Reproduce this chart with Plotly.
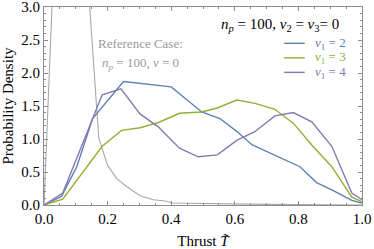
import plotly.graph_objects as go

# ---- data ----
ref_T = [0.0, 0.06, 0.121, 0.172, 0.20, 0.229, 0.26, 0.302, 0.344, 0.38, 0.405, 0.5, 0.6, 0.7, 0.8, 0.9, 1.0]
ref_p = [0.0, 7.2, 4.6, 1.02, 0.60, 0.40, 0.28, 0.14, 0.08, 0.06, 0.03, 0.02, 0.015, 0.01, 0.008, 0.005, 0.0]

nu2_T = [0.0, 0.055, 0.103, 0.153, 0.25, 0.302, 0.354, 0.40, 0.496, 0.553, 0.605, 0.655, 0.805, 0.857, 0.905, 0.968, 1.0]
nu2_p = [0.0, 0.13, 0.58, 1.31, 1.87, 1.84, 1.81, 1.79, 1.41, 1.31, 1.12, 0.91, 0.58, 0.34, 0.23, 0.07, 0.03]

nu3_T = [0.0, 0.059, 0.183, 0.244, 0.302, 0.36, 0.426, 0.496, 0.545, 0.606, 0.664, 0.726, 0.784, 0.842, 0.905, 0.968, 1.0]
nu3_p = [0.0, 0.09, 0.89, 1.13, 1.17, 1.25, 1.39, 1.41, 1.47, 1.59, 1.54, 1.45, 1.24, 0.91, 0.58, 0.12, 0.05]

nu4_T = [0.0, 0.059, 0.183, 0.242, 0.302, 0.36, 0.426, 0.485, 0.545, 0.606, 0.663, 0.726, 0.784, 0.842, 0.905, 0.968, 1.0]
nu4_p = [0.0, 0.18, 1.67, 1.76, 1.38, 1.18, 0.86, 0.73, 0.76, 0.98, 1.11, 1.35, 1.40, 1.26, 0.89, 0.18, 0.08]

series_labels = ["2", "3", "4"]
colors = ["#5E81B5", "#8FB032", "#8778B3"]
grey = "#A8A8A8"
serif = "Liberation Serif, Times New Roman, serif"

fig = go.Figure()
fig.add_trace(go.Scatter(x=ref_T, y=ref_p, mode="lines",
                         line=dict(color=grey, width=1.1), showlegend=False))
for T, p, c in zip([nu2_T, nu3_T, nu4_T], [nu2_p, nu3_p, nu4_p], colors):
    fig.add_trace(go.Scatter(x=T, y=p, mode="lines",
                             line=dict(color=c, width=1.4), showlegend=False))

axis_common = dict(
    showgrid=False, zeroline=False, showline=True, linecolor="#8c8c8c",
    linewidth=1, mirror="ticks", ticks="inside", ticklen=4, tickcolor="#8c8c8c",
    tickfont=dict(family=serif, size=15, color="black"), automargin=False,
    ticklabeloverflow="allow",
)
fig.update_xaxes(range=[0, 1], dtick=0.2, tickformat=".1f",
                 minor=dict(dtick=0.05, ticks="inside", ticklen=2, tickcolor="#8c8c8c"),
                 title=dict(text="Thrust <i>T\u0303</i>", font=dict(family=serif, size=15, color="black")),
                 **axis_common)
fig.update_yaxes(range=[0, 3], dtick=0.5, tickformat=".1f",
                 minor=dict(dtick=0.1, ticks="inside", ticklen=2, tickcolor="#8c8c8c"),
                 title=dict(text="Probability Density", font=dict(family=serif, size=15, color="black")),
                 **axis_common)

# reference-case label
fig.add_annotation(x=0.305, y=2.45, xref="x", yref="y", showarrow=False,
                   text="Reference Case:", font=dict(family=serif, size=13, color="#9a9a9a"))
fig.add_annotation(x=0.305, y=2.15, xref="x", yref="y", showarrow=False,
                   text="<i>n<sub>p</sub></i> = 100, <i>ν</i> = 0", font=dict(family=serif, size=13, color="#9a9a9a"))

# legend header and entries
fig.add_annotation(x=0.935, y=2.72, xref="x", yref="y", xanchor="right", showarrow=False,
                   text="<i>n<sub>p</sub></i> = 100, <i>ν</i><sub>2</sub> = <i>ν</i><sub>3</sub>= 0",
                   font=dict(family=serif, size=15, color="black"))
for i, (lab, c) in enumerate(zip(series_labels, colors)):
    yy = 2.45 - i * 0.22
    fig.add_shape(type="line", xref="x", yref="y", x0=0.755, x1=0.82, y0=yy, y1=yy,
                  line=dict(color=c, width=1.4))
    fig.add_annotation(x=0.955, y=yy, xref="x", yref="y", xanchor="right", showarrow=False,
                       text=f"<i>ν</i><sub>1</sub> = {lab}", font=dict(family=serif, size=13, color=c))

fig.update_layout(width=374, height=249, margin=dict(l=44, r=12, t=7, b=44),
                  paper_bgcolor="white", plot_bgcolor="white", showlegend=False)
fig.write_html("out.html", config={"displayModeBar": False},
               post_script="document.body.style.margin='0';document.body.style.overflow='hidden';")
